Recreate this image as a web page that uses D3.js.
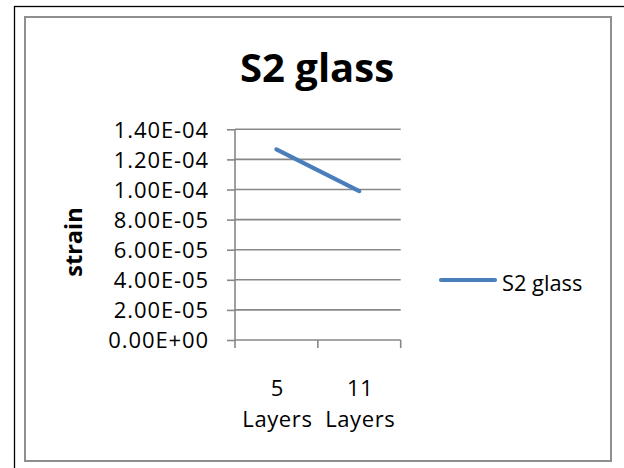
<!DOCTYPE html>
<html>
<head>
<meta charset="utf-8">
<script src="https://cdn.jsdelivr.net/npm/d3@7"></script>
<style>
  html, body { margin: 0; padding: 0; background: #fff; }
  svg { display: block; }
  text { font-family: "Open Sans", "DejaVu Sans", sans-serif; fill: #000; }
</style>
</head>
<body>
<svg id="chart" width="624" height="468"></svg>
<script>
// Strain of S2 glass laminates by number of layers
const categories = ["5 Layers", "11 Layers"];
const seriesName = "S2 glass";
const strainValues = [1.267e-4, 0.99e-4];
const yTicks = [0, 2e-5, 4e-5, 6e-5, 8e-5, 1e-4, 1.2e-4, 1.4e-4];

const svg = d3.select("#chart");

// page frame and chart area border
svg.append("rect")
  .attr("x", 14.5).attr("y", 6.5).attr("width", 700).attr("height", 600)
  .attr("fill", "none").attr("stroke", "#000").attr("stroke-width", 1.3);
svg.append("rect")
  .attr("x", 25).attr("y", 17).attr("width", 586).attr("height", 444)
  .attr("fill", "#fff").attr("stroke", "#8f8f8f").attr("stroke-width", 2);

const plot = { left: 235, right: 400.7, top: 129.3, bottom: 340 };

const x = d3.scaleBand().domain(categories).range([plot.left, plot.right]).paddingInner(0).paddingOuter(0);
const y = d3.scaleLinear().domain([0, 1.4e-4]).range([plot.bottom, plot.top]);

// Excel-like scientific format, e.g. 1.40E-04
function sci(v) {
  const [m, e] = v.toExponential(2).split("e");
  const sign = e[0] === "-" ? "-" : "+";
  const digits = e.replace(/[+-]/, "").padStart(2, "0");
  return m + "E" + sign + digits;
}

const gridColor = "#878787";

// horizontal gridlines
svg.append("g")
  .selectAll("line")
  .data(yTicks.filter(d => d > 0))
  .join("line")
  .attr("x1", plot.left).attr("x2", plot.right)
  .attr("y1", d => y(d)).attr("y2", d => y(d))
  .attr("stroke", gridColor).attr("stroke-width", 1.6);

// y axis
const yAxis = svg.append("g")
  .attr("transform", `translate(${plot.left},0)`)
  .call(d3.axisLeft(y).tickValues(yTicks).tickFormat(sci).tickSize(8).tickPadding(18));
yAxis.select(".domain").attr("stroke", gridColor).attr("stroke-width", 1.6)
  .attr("d", `M0,${plot.top}V${plot.bottom}`);
yAxis.selectAll(".tick line").attr("stroke", gridColor).attr("stroke-width", 1.6);
yAxis.selectAll(".tick text")
  .style("font-family", '"Open Sans", sans-serif')
  .attr("font-size", 22).attr("letter-spacing", 0.9)
  .attr("fill", "#000").attr("dy", "0.36em");

// x axis: baseline with ticks on category boundaries
const xg = svg.append("g");
xg.append("line")
  .attr("x1", plot.left).attr("x2", plot.right)
  .attr("y1", plot.bottom).attr("y2", plot.bottom)
  .attr("stroke", gridColor).attr("stroke-width", 1.6);
const bounds = categories.map(c => x(c)).concat([x(categories[categories.length - 1]) + x.bandwidth()]);
xg.selectAll("line.tk")
  .data(bounds)
  .join("line")
  .attr("class", "tk")
  .attr("x1", d => d).attr("x2", d => d)
  .attr("y1", plot.bottom).attr("y2", plot.bottom + 8)
  .attr("stroke", gridColor).attr("stroke-width", 1.6);

// two-line category labels
const catText = xg.selectAll("text.cat")
  .data(categories)
  .join("text")
  .attr("class", "cat")
  .attr("text-anchor", "middle")
  .attr("font-size", 22).attr("letter-spacing", 0.6);
catText.each(function (d) {
  const cx = x(d) + x.bandwidth() / 2 + 1;
  const parts = d.split(" ");
  const t = d3.select(this);
  parts.forEach((p, i) => {
    t.append("tspan").attr("x", cx).attr("y", 395.5 + i * 31.3).text(p);
  });
});

// series line
const line = d3.line()
  .x((d, i) => x(categories[i]) + x.bandwidth() / 2)
  .y(d => y(d));
svg.append("path")
  .datum(strainValues)
  .attr("d", line)
  .attr("fill", "none")
  .attr("stroke", "#4a7ebb")
  .attr("stroke-width", 4.2)
  .attr("stroke-linecap", "round")
  .attr("stroke-linejoin", "round");

// title
svg.append("text")
  .attr("x", 317).attr("y", 81.7)
  .attr("text-anchor", "middle")
  .attr("font-size", 40).attr("font-weight", "bold")
  .text(seriesName);

// y axis title
svg.append("text")
  .attr("transform", "translate(81.5,242) rotate(-90)")
  .attr("text-anchor", "middle")
  .attr("font-size", 23.5).attr("font-weight", "bold")
  .text("strain");

// legend
const lg = svg.append("g");
lg.append("line")
  .attr("x1", 441).attr("x2", 495)
  .attr("y1", 280).attr("y2", 280)
  .attr("stroke", "#4a7ebb").attr("stroke-width", 4.2).attr("stroke-linecap", "round");
lg.append("text")
  .attr("x", 502).attr("y", 290.5)
  .attr("font-size", 21.8)
  .text(seriesName);
</script>
</body>
</html>
